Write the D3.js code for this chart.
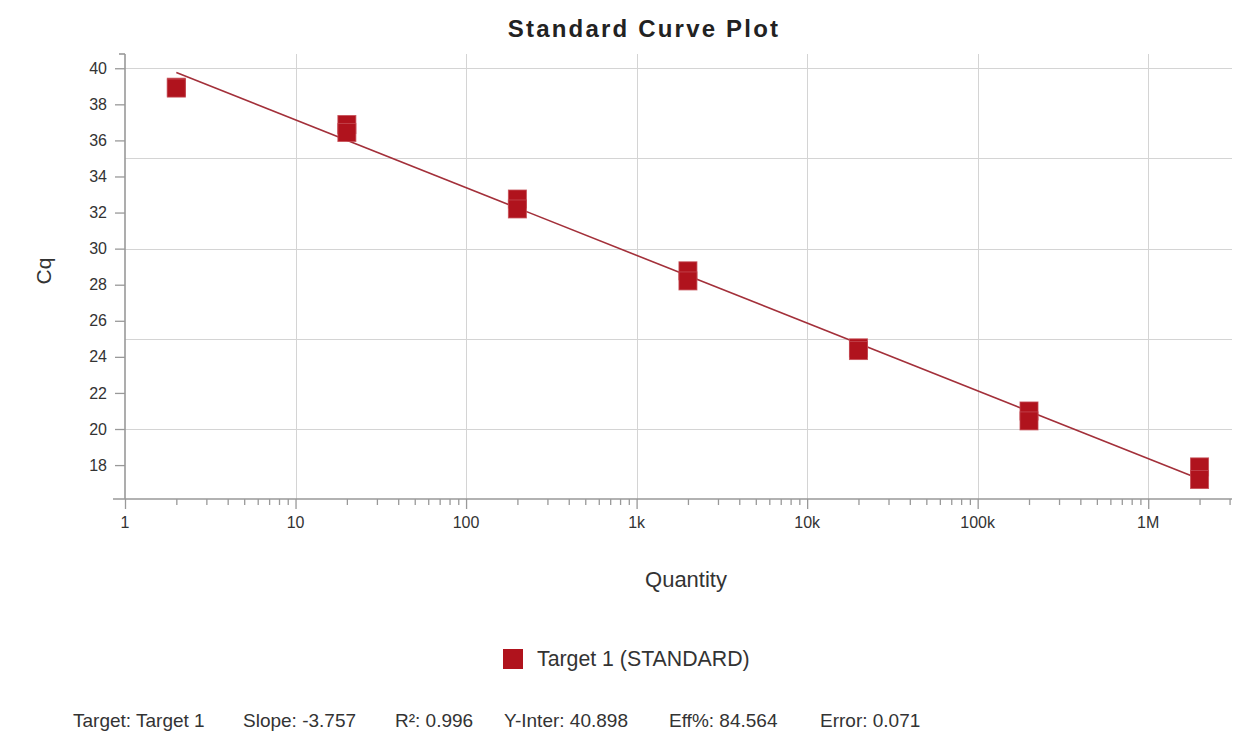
<!DOCTYPE html>
<html>
<head>
<meta charset="utf-8">
<script src="https://cdn.jsdelivr.net/npm/d3@7"></script>
<style>
  html, body { margin: 0; padding: 0; background: #fff; }
  svg { display: block; }
  text { font-family: Arial, "Liberation Sans", sans-serif; fill: #333; }
</style>
</head>
<body>
<svg id="chart" width="1243" height="731"></svg>
<script>
// ---- data ----
const quantities = [2, 2, 20, 20, 200, 200, 2000, 2000, 20000, 20000, 200000, 200000, 2000000, 2000000];
const cqValues   = [38.95, 38.9, 36.88, 36.44, 32.75, 32.2, 28.77, 28.21, 24.5, 24.35, 21.0, 20.45, 17.9, 17.2];
const yTicks = [18, 20, 22, 24, 26, 28, 30, 32, 34, 36, 38, 40];
const yGrid = [20, 25, 30, 35, 40];
const xDecades = [1, 10, 100, 1000, 10000, 100000, 1000000];
const xDecadeLabels = ["1", "10", "100", "1k", "10k", "100k", "1M"];
const fitSlope = -3.757;
const fitIntercept = 40.898;
const statLabels = ["Target: Target 1", "Slope: -3.757", "R\u00B2: 0.996", "Y-Inter: 40.898", "Eff%: 84.564", "Error: 0.071"];
const seriesName = "Target 1 (STANDARD)";
const chartTitle = "Standard Curve Plot";

// ---- layout ----
const svg = d3.select("#chart");
const pLeft = 125, pRight = 1232, pTop = 54, pBottom = 499;
const x = d3.scaleLog().domain([1, 3.1e6]).range([pLeft, pRight]);
const y = d3.scaleLinear().domain([16.12, 40.79]).range([pBottom, pTop]);
const gridColor = "#d4d4d4";
const axisColor = "#999";
const markFill = "#b0131d";

// grid
svg.append("g").selectAll("line").data(yGrid).join("line")
  .attr("x1", pLeft).attr("x2", pRight)
  .attr("y1", d => Math.round(y(d)) + 0.5).attr("y2", d => Math.round(y(d)) + 0.5)
  .attr("stroke", gridColor).attr("stroke-width", 1);
svg.append("g").selectAll("line").data(xDecades.slice(1)).join("line")
  .attr("y1", pTop).attr("y2", pBottom)
  .attr("x1", d => Math.round(x(d)) + 0.5).attr("x2", d => Math.round(x(d)) + 0.5)
  .attr("stroke", gridColor).attr("stroke-width", 1);

// x axis ticks (all log minor ticks)
const allXTicks = [];
for (let dec = 1; dec <= 1e6; dec *= 10) {
  for (let m = 1; m <= 9; m++) { const v = dec * m; if (v <= 3.1e6) allXTicks.push(v); }
}
const xAxisG = svg.append("g").attr("transform", `translate(0,${pBottom})`);
xAxisG.call(d3.axisBottom(x).tickValues(allXTicks).tickSize(6).tickSizeOuter(0).tickFormat(""));
xAxisG.select(".domain").remove();
xAxisG.selectAll(".tick line").attr("stroke", axisColor).attr("stroke-width", 1.3)
  .attr("y2", d => xDecades.includes(d) ? 10 : 6);
xAxisG.selectAll(".tick text").remove();
svg.append("g").selectAll("text").data(xDecades).join("text")
  .attr("x", d => x(d)).attr("y", 528)
  .attr("text-anchor", "middle").attr("font-size", 16)
  .text((d, i) => xDecadeLabels[i]);

// y axis
const yAxisG = svg.append("g").attr("transform", `translate(${pLeft},0)`);
yAxisG.call(d3.axisLeft(y).tickValues(yTicks).tickSize(10).tickPadding(8).tickSizeOuter(0));
yAxisG.select(".domain").remove();
yAxisG.selectAll(".tick line").attr("stroke", axisColor).attr("stroke-width", 1.3);
yAxisG.selectAll(".tick text").attr("font-size", 16).attr("fill", "#333")
  .attr("font-family", "Arial, 'Liberation Sans', sans-serif");

// axis lines
svg.append("line").attr("x1", pLeft).attr("x2", pLeft).attr("y1", pTop).attr("y2", pBottom)
  .attr("stroke", axisColor).attr("stroke-width", 1.6);
svg.append("line").attr("x1", pLeft - 6).attr("x2", pLeft).attr("y1", pTop).attr("y2", pTop)
  .attr("stroke", axisColor).attr("stroke-width", 1.6);
svg.append("line").attr("x1", pLeft - 12).attr("x2", pRight).attr("y1", pBottom).attr("y2", pBottom)
  .attr("stroke", axisColor).attr("stroke-width", 1.6);

// regression line
const qMin = d3.min(quantities), qMax = d3.max(quantities);
const fitPts = [qMin, qMax].map(q => [q, fitSlope * Math.log10(q) + fitIntercept]);
svg.append("path")
  .attr("d", d3.line().x(d => x(d[0])).y(d => y(d[1]))(fitPts))
  .attr("stroke", "#a3303a").attr("stroke-width", 1.6).attr("fill", "none");

// points
const sz = 18;
svg.append("g").selectAll("rect").data(quantities.map((q, i) => [q, cqValues[i]])).join("rect")
  .attr("x", d => x(d[0]) - sz / 2).attr("y", d => y(d[1]) - sz / 2)
  .attr("width", sz).attr("height", sz)
  .attr("fill", markFill).attr("stroke", "#c44a52").attr("stroke-width", 1).attr("stroke-opacity", 0.8);

// title
svg.append("text").attr("x", 644).attr("y", 37).attr("text-anchor", "middle")
  .attr("font-size", 24).attr("font-weight", "bold").attr("letter-spacing", 2.2)
  .style("fill", "#222")
  .text(chartTitle);

// axis titles
svg.append("text").attr("x", 686).attr("y", 587).attr("text-anchor", "middle")
  .attr("font-size", 22).text("Quantity");
svg.append("text").attr("transform", "translate(51,271) rotate(-90)").attr("text-anchor", "middle")
  .attr("font-size", 21).text("Cq");

// legend
svg.append("rect").attr("x", 503).attr("y", 649).attr("width", 20).attr("height", 20)
  .attr("fill", markFill);
svg.append("text").attr("x", 537).attr("y", 666).attr("font-size", 21.3).text(seriesName);

// stats footer
const statX = [73, 243, 395, 504, 669, 820];
svg.append("g").selectAll("text").data(statLabels).join("text")
  .attr("x", (d, i) => statX[i]).attr("y", 727).attr("font-size", 19)
  .text(d => d);
</script>
</body>
</html>
